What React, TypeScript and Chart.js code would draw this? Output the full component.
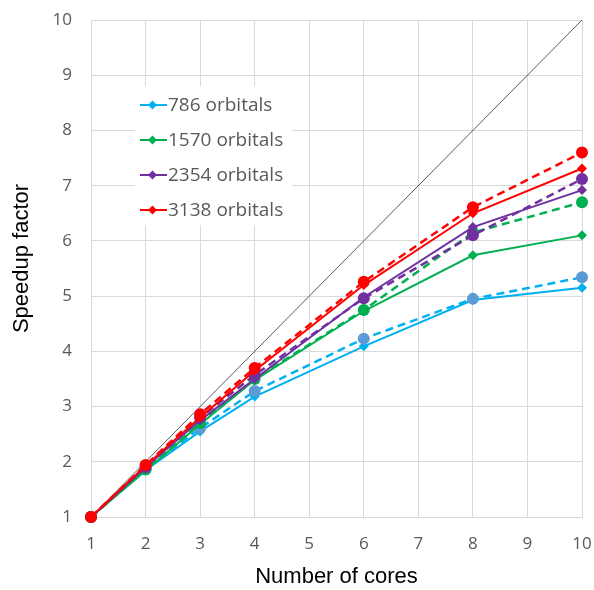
import React, { useEffect, useRef } from "react";
import { Chart, registerables } from "chart.js";

Chart.register(...registerables);

const cores = [1, 2, 3, 4, 6, 8, 10];
const ideal = [1, 10];
const idealX = [1, 10];

const s786 = [1, 1.85, 2.55, 3.18, 4.09, 4.93, 5.15];
const s786b = [1, 1.87, 2.61, 3.28, 4.23, 4.95, 5.34];
const s1570 = [1, 1.84, 2.68, 3.48, 4.73, 5.74, 6.1];
const s1570b = [1, 1.86, 2.7, 3.5, 4.75, 6.15, 6.7];
const s2354 = [1, 1.9, 2.75, 3.5, 4.98, 6.25, 6.92];
const s2354b = [1, 1.9, 2.8, 3.57, 4.96, 6.1, 7.12];
const s3138 = [1, 1.93, 2.8, 3.65, 5.2, 6.5, 7.31];
const s3138b = [1, 1.94, 2.86, 3.7, 5.26, 6.61, 7.6];

const legendLabels = ["786 orbitals", "1570 orbitals", "2354 orbitals", "3138 orbitals"];
const colors = ["#00B0F0", "#00B050", "#7030A0", "#FF0000"];
const circleColors = ["#5B9BD5", "#00B050", "#7030A0", "#FF0000"];
const yTicks = [1, 2, 3, 4, 5, 6, 7, 8, 9, 10];
const yTitle = "Speedup factor";

const toXY = (xs: number[], ys: number[]) => xs.map((x, i) => ({ x, y: ys[i] }));

const legendPlugin = {
  id: "customLegend",
  beforeDatasetsDraw(chart: any) {
    const { ctx, chartArea } = chart;
    const bx = chartArea.left + 44;
    const by = chartArea.top + 66;
    ctx.save();
    ctx.fillStyle = "#ffffff";
    ctx.fillRect(bx, by, 157, 139);
    legendLabels.forEach((label, i) => {
      const y = by + 19 + i * 35;
      const x0 = bx + 5;
      ctx.strokeStyle = colors[i];
      ctx.lineWidth = 2;
      ctx.beginPath();
      ctx.moveTo(x0, y);
      ctx.lineTo(x0 + 27, y);
      ctx.stroke();
      ctx.fillStyle = colors[i];
      ctx.beginPath();
      const cx = x0 + 12.5;
      const r = 4.5;
      ctx.moveTo(cx, y - r);
      ctx.lineTo(cx + r, y);
      ctx.lineTo(cx, y + r);
      ctx.lineTo(cx - r, y);
      ctx.closePath();
      ctx.fill();
      ctx.fillStyle = "#595959";
      ctx.font = "19px 'Open Sans'";
      ctx.textBaseline = "middle";
      ctx.textAlign = "left";
      ctx.fillText(label, x0 + 28, y + 1);
    });
    ctx.restore();
  },
};

const yTitlePlugin = {
  id: "yTitle",
  afterDraw(chart: any) {
    const { ctx, chartArea } = chart;
    ctx.save();
    ctx.translate(22, (chartArea.top + chartArea.bottom) / 2 - 10);
    ctx.rotate(-Math.PI / 2);
    ctx.fillStyle = "#000000";
    ctx.font = "22px 'Liberation Sans'";
    ctx.textAlign = "center";
    ctx.textBaseline = "middle";
    ctx.fillText(yTitle, 0, 0);
    ctx.restore();
  },
};

const zeroPad = (s: any) => {
  s.paddingTop = 0;
  s.paddingBottom = 0;
  s.paddingLeft = 0;
  s.paddingRight = 0;
};

export default function App() {
  const ref = useRef<HTMLCanvasElement>(null);
  useEffect(() => {
    if (!ref.current) return;
    const solid = [s786, s1570, s2354, s3138];
    const dashed = [s786b, s1570b, s2354b, s3138b];
    const datasets: any[] = [];
    solid.forEach((arr, i) => {
      datasets.push({
        label: legendLabels[i],
        data: toXY(cores, arr),
        borderColor: colors[i],
        backgroundColor: colors[i],
        borderWidth: 2,
        pointStyle: "rectRot",
        pointRadius: 5,
        pointBorderWidth: 0,
        tension: 0,
        clip: false,
        order: 20 - i * 2,
      });
      datasets.push({
        label: legendLabels[i] + " b",
        data: toXY(cores, dashed[i]),
        borderColor: colors[i],
        backgroundColor: circleColors[i],
        borderWidth: 2.5,
        borderDash: [8, 5],
        pointStyle: "circle",
        pointRadius: 6,
        pointBorderWidth: 0,
        tension: 0,
        clip: false,
        order: 19 - i * 2,
      });
    });
    datasets.push({
      label: "ideal",
      data: toXY(idealX, ideal),
      borderColor: "#5A5A5A",
      borderWidth: 1,
      pointRadius: 0,
      order: 100,
    });
    const chart = new Chart(ref.current, {
      type: "line",
      data: { datasets },
      plugins: [legendPlugin, yTitlePlugin],
      options: {
        animation: false,
        responsive: false,
        devicePixelRatio: 1,
        layout: { padding: { left: 0, right: 12, top: 20, bottom: 0 } },
        plugins: { legend: { display: false }, tooltip: { enabled: false } },
        scales: {
          x: {
            type: "linear",
            min: 1,
            max: 10,
            afterFit: (s: any) => {
              s.height = 73;
              zeroPad(s);
            },
            ticks: {
              stepSize: 1,
              padding: 17,
              color: "#595959",
              font: { family: "'Open Sans'", size: 17 },
            },
            grid: { color: "#D9D9D9", drawTicks: false, lineWidth: 1 },
            border: { color: "#D9D9D9" },
            title: {
              display: true,
              text: "Number of cores",
              color: "#000000",
              font: { family: "'Liberation Sans'", size: 22 },
              padding: { top: 0, bottom: 0 },
            },
          },
          y: {
            type: "linear",
            min: 1,
            max: 10,
            afterFit: (s: any) => {
              s.width = 91;
              zeroPad(s);
            },
            afterBuildTicks: (s: any) => {
              s.ticks = yTicks.map((v) => ({ value: v }));
            },
            ticks: {
              padding: 19,
              color: "#595959",
              font: { family: "'Open Sans'", size: 17 },
            },
            grid: { color: "#D9D9D9", drawTicks: false, lineWidth: 1 },
            border: { color: "#D9D9D9" },
          },
        },
      },
    });
    return () => chart.destroy();
  }, []);
  return (
    <div style={{ position: "fixed", left: 0, top: 0, width: 594, height: 590, background: "#fff" }}>
      <canvas ref={ref} width={594} height={590} />
    </div>
  );
}
